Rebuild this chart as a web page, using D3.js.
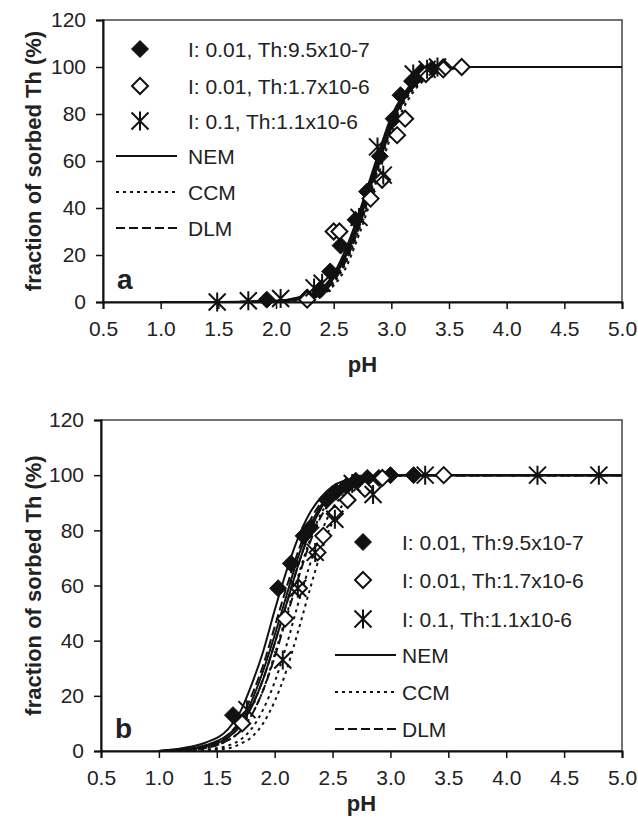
<!DOCTYPE html>
<html>
<head>
<meta charset="utf-8">
<script src="https://cdn.jsdelivr.net/npm/d3@7"></script>
<style>
  body { margin: 0; background: #fff; }
  svg { font-family: "Liberation Sans", Arial, sans-serif; }
</style>
</head>
<body>
<div id="chart"></div>
<script>
// ---- data ----
var xTicks = [0.5, 1.0, 1.5, 2.0, 2.5, 3.0, 3.5, 4.0, 4.5, 5.0];
var yTicks = [0, 20, 40, 60, 80, 100, 120];
var seriesNames = ["I: 0.01, Th:9.5x10-7", "I: 0.01, Th:1.7x10-6", "I: 0.1, Th:1.1x10-6"];
var modelNames = ["NEM", "CCM", "DLM"];

// panel a: measured points [pH, % sorbed]
var filledA = [[1.92, 1], [2.27, 2], [2.38, 5], [2.47, 13], [2.56, 24], [2.69, 35], [2.79, 47], [2.90, 62],
  [3.02, 78], [3.08, 88], [3.18, 94], [3.26, 98], [3.35, 99], [3.45, 100]];
var openA = [[2.27, 1], [2.50, 30], [2.55, 30], [2.82, 44], [2.92, 52], [3.05, 71], [3.12, 78],
  [3.30, 97], [3.45, 99], [3.61, 100]];
var starA = [[1.49, 0], [1.76, 0.5], [2.04, 1.5], [2.33, 6], [2.40, 8], [2.72, 36], [2.88, 66],
  [2.93, 54], [3.19, 97], [3.31, 99], [3.40, 100]];

// panel a: model curves, sampled at pHA
var pHA = [1.0, 1.5, 2.0, 2.2, 2.4, 2.5, 2.6, 2.7, 2.8, 2.9, 3.0, 3.1, 3.2, 3.3, 3.4, 3.5, 3.7, 4.0, 5.0];
var nemA = [
  [0, 0, 0.5, 2, 6, 12, 22, 35, 50, 65, 79, 88, 94, 97, 99, 99.6, 100, 100, 100],
  [0, 0, 0.3, 1.5, 5, 10, 19, 31, 46, 61, 75, 86, 92, 96, 98, 99.4, 100, 100, 100],
  [0, 0, 0.4, 1.8, 5.5, 11, 20, 33, 48, 63, 77, 87, 93, 97, 99, 99.5, 100, 100, 100]
];
var ccmA = [
  [0, 0, 0.2, 1, 3.5, 8, 16, 28, 43, 59, 73, 84, 91, 95, 98, 99.2, 100, 100, 100],
  [0, 0, 0.2, 1.2, 4, 9, 17, 30, 45, 60, 74, 85, 92, 96, 98, 99.3, 100, 100, 100],
  [0, 0, 0.1, 0.8, 3, 7, 14, 26, 40, 56, 71, 82, 90, 95, 97.5, 99, 100, 100, 100]
];
var dlmA = [
  [0, 0, 0.4, 1.8, 5.5, 11, 21, 34, 49, 64, 78, 87, 93, 97, 99, 99.5, 100, 100, 100],
  [0, 0, 0.3, 1.4, 4.5, 10, 18, 31, 46, 61, 76, 86, 92, 96, 98.5, 99.4, 100, 100, 100],
  [0, 0, 0.3, 1.2, 4, 9, 17, 29, 44, 60, 74, 85, 92, 96, 98, 99.3, 100, 100, 100]
];

// panel b: measured points
var filledB = [[1.64, 13], [2.03, 59], [2.14, 68], [2.25, 78], [2.31, 81], [2.45, 91], [2.53, 94],
  [2.62, 96], [2.70, 98], [2.80, 99], [2.90, 99], [3.00, 100], [3.20, 100]];
var openB = [[1.72, 10], [2.09, 48], [2.21, 59], [2.37, 72], [2.42, 78], [2.52, 86], [2.63, 91],
  [2.78, 95], [2.93, 99], [3.46, 100]];
var starB = [[1.76, 15], [2.07, 33], [2.20, 59], [2.35, 72], [2.52, 84], [2.67, 97], [2.85, 93],
  [3.30, 100], [4.27, 100], [4.80, 100]];

// panel b: model curves, sampled at pHB
var pHB = [1.0, 1.2, 1.4, 1.6, 1.7, 1.8, 1.9, 2.0, 2.1, 2.2, 2.3, 2.4, 2.5, 2.6, 2.7, 2.8, 3.0, 3.2, 3.5, 4.0, 5.0];
var nemB = [
  [0, 1, 3, 8, 14, 24, 36, 51, 65, 77, 86, 92, 96, 98, 99, 99.5, 100, 100, 100, 100, 100],
  [0, 0.5, 2, 6, 10, 18, 29, 42, 56, 70, 81, 89, 94, 97, 98.5, 99.3, 100, 100, 100, 100, 100],
  [0, 0.5, 1.5, 5, 9, 16, 26, 39, 53, 67, 79, 88, 93, 96.5, 98.5, 99.2, 100, 100, 100, 100, 100]
];
var ccmB = [
  [0, 0.2, 1, 4, 7, 13, 22, 35, 49, 63, 76, 86, 92, 96, 98, 99, 100, 100, 100, 100, 100],
  [0, 0, 0.5, 2, 4, 8, 15, 25, 38, 53, 67, 79, 88, 93, 96, 98, 99.5, 100, 100, 100, 100],
  [0, 0, 0.3, 1, 2.5, 5, 10, 18, 29, 43, 58, 72, 83, 90, 95, 97.5, 99.3, 100, 100, 100, 100]
];
var dlmB = [
  [0, 0.5, 2, 6, 11, 20, 31, 45, 59, 72, 83, 90, 95, 97.5, 99, 99.5, 100, 100, 100, 100, 100],
  [0, 0.3, 1.5, 5, 9, 16, 26, 39, 53, 67, 79, 88, 93, 96.5, 98.5, 99.2, 100, 100, 100, 100, 100],
  [0, 0.2, 1, 4, 7, 13, 22, 34, 48, 62, 75, 85, 91, 95, 97.5, 98.8, 99.8, 100, 100, 100, 100]
];

var width = 638,
    height = 818;

var dashes = { NEM: null, CCM: "3,4", DLM: "9,4" };

var svg = d3.select("#chart").append("svg")
    .attr("width", width)
    .attr("height", height);

var diamondPath = function(r) {
  return "M0," + (-r) + "L" + r + ",0L0," + r + "L" + (-r) + ",0Z";
};
var starPath = function(r) {
  return "M" + (-r) + "," + (-r) + "L" + r + "," + r +
         "M" + (-r) + "," + r + "L" + r + "," + (-r) +
         "M0," + (-r - 1) + "L0," + (r + 1);
};

var drawMarker = function(g, kind, cx, cy) {
  if (kind === 0) {
    g.append("path").attr("d", diamondPath(8.5)).attr("transform", "translate(" + cx + "," + cy + ")")
      .attr("fill", "#111").attr("stroke", "#111").attr("stroke-width", 1);
  } else if (kind === 1) {
    g.append("path").attr("d", diamondPath(8)).attr("transform", "translate(" + cx + "," + cy + ")")
      .attr("fill", "#fff").attr("stroke", "#111").attr("stroke-width", 2);
  } else {
    g.append("path").attr("d", starPath(8.5)).attr("transform", "translate(" + cx + "," + cy + ")")
      .attr("fill", "none").attr("stroke", "#111").attr("stroke-width", 2);
  }
};

var drawPanel = function(p) {
  var x = d3.scaleLinear().domain([0.5, 5.0]).range([p.left, p.right]);
  var y = d3.scaleLinear().domain([0, 120]).range([p.bottom, p.top]);

  var g = svg.append("g");

  // frame
  g.append("rect")
    .attr("x", p.left).attr("y", p.top)
    .attr("width", p.right - p.left).attr("height", p.bottom - p.top)
    .attr("fill", "none").attr("stroke", "#444").attr("stroke-width", 1.5);

  // model curves
  var line = d3.line().curve(d3.curveMonotoneX);
  var models = [[p.nem, "NEM"], [p.ccm, "CCM"], [p.dlm, "DLM"]];
  models.forEach(function(m) {
    m[0].forEach(function(vals) {
      var pts = vals.map(function(v, i) { return [x(p.pH[i]), y(v)]; });
      g.append("path")
        .attr("d", line(pts))
        .attr("fill", "none")
        .attr("stroke", "#111")
        .attr("stroke-width", 2)
        .attr("stroke-dasharray", dashes[m[1]]);
    });
  });

  // measured points
  var sets = [p.filled, p.open, p.star];
  sets.forEach(function(set, k) {
    set.forEach(function(d) {
      drawMarker(g, k, x(d[0]), y(d[1]));
    });
  });

  // axes
  var xAxis = d3.axisBottom(x).tickValues(xTicks).tickFormat(d3.format(".1f")).tickSize(7).tickPadding(12);
  var yAxis = d3.axisLeft(y).tickValues(yTicks).tickFormat(d3.format("d")).tickSize(7).tickPadding(10);

  var gx = g.append("g").attr("transform", "translate(0," + p.bottom + ")").call(xAxis);
  var gy = g.append("g").attr("transform", "translate(" + p.left + ",0)").call(yAxis);
  [gx, gy].forEach(function(a) {
    a.select(".domain").attr("stroke", "#111").attr("stroke-width", 2);
    a.selectAll(".tick line").attr("stroke", "#111").attr("stroke-width", 1.5);
    a.selectAll(".tick text").attr("fill", "#222").style("font-size", "21px")
      .style("font-family", "'Liberation Sans', Arial, sans-serif");
  });

  // axis titles
  g.append("text")
    .attr("x", (p.left + p.right) / 2).attr("y", p.xTitleY)
    .attr("text-anchor", "middle")
    .style("font-size", "22px").style("font-weight", "bold").attr("fill", "#222")
    .text("pH");

  g.append("text")
    .attr("transform", "translate(41," + ((p.top + p.bottom) / 2) + ") rotate(-90)")
    .attr("text-anchor", "middle")
    .style("font-size", "22px").style("font-weight", "bold").attr("fill", "#222")
    .text("fraction of sorbed Th (%)");

  // panel letter
  g.append("text")
    .attr("x", p.left + 14).attr("y", p.bottom - 13)
    .style("font-size", "28px").style("font-weight", "bold").attr("fill", "#222")
    .text(p.letter);

  // legend
  var lg = g.append("g");
  seriesNames.forEach(function(name, k) {
    var ry = p.legRows[k];
    drawMarker(lg, k, p.legMarkX, ry);
    lg.append("text").attr("x", p.legTextX).attr("y", ry).attr("dy", "0.36em")
      .style("font-size", "21px").attr("fill", "#222").text(name);
  });
  modelNames.forEach(function(name, k) {
    var ry = p.legRows[k + 3];
    lg.append("line")
      .attr("x1", p.legLine[0]).attr("x2", p.legLine[1])
      .attr("y1", ry).attr("y2", ry)
      .attr("stroke", "#111").attr("stroke-width", 2)
      .attr("stroke-dasharray", dashes[name]);
    lg.append("text").attr("x", p.legTextX).attr("y", ry).attr("dy", "0.36em")
      .style("font-size", "21px").attr("fill", "#222").text(name);
  });
};

drawPanel({
  letter: "a", left: 103, right: 622, top: 20, bottom: 302, xTitleY: 372,
  pH: pHA, nem: nemA, ccm: ccmA, dlm: dlmA,
  filled: filledA, open: openA, star: starA,
  legMarkX: 140, legTextX: 188, legLine: [116, 177],
  legRows: [49, 86, 121, 156, 192, 228]
});

drawPanel({
  letter: "b", left: 101, right: 622, top: 420, bottom: 751, xTitleY: 811,
  pH: pHB, nem: nemB, ccm: ccmB, dlm: dlmB,
  filled: filledB, open: openB, star: starB,
  legMarkX: 363, legTextX: 402, legLine: [335, 396],
  legRows: [542, 580, 619, 655, 692, 729]
});
</script>
</body>
</html>
